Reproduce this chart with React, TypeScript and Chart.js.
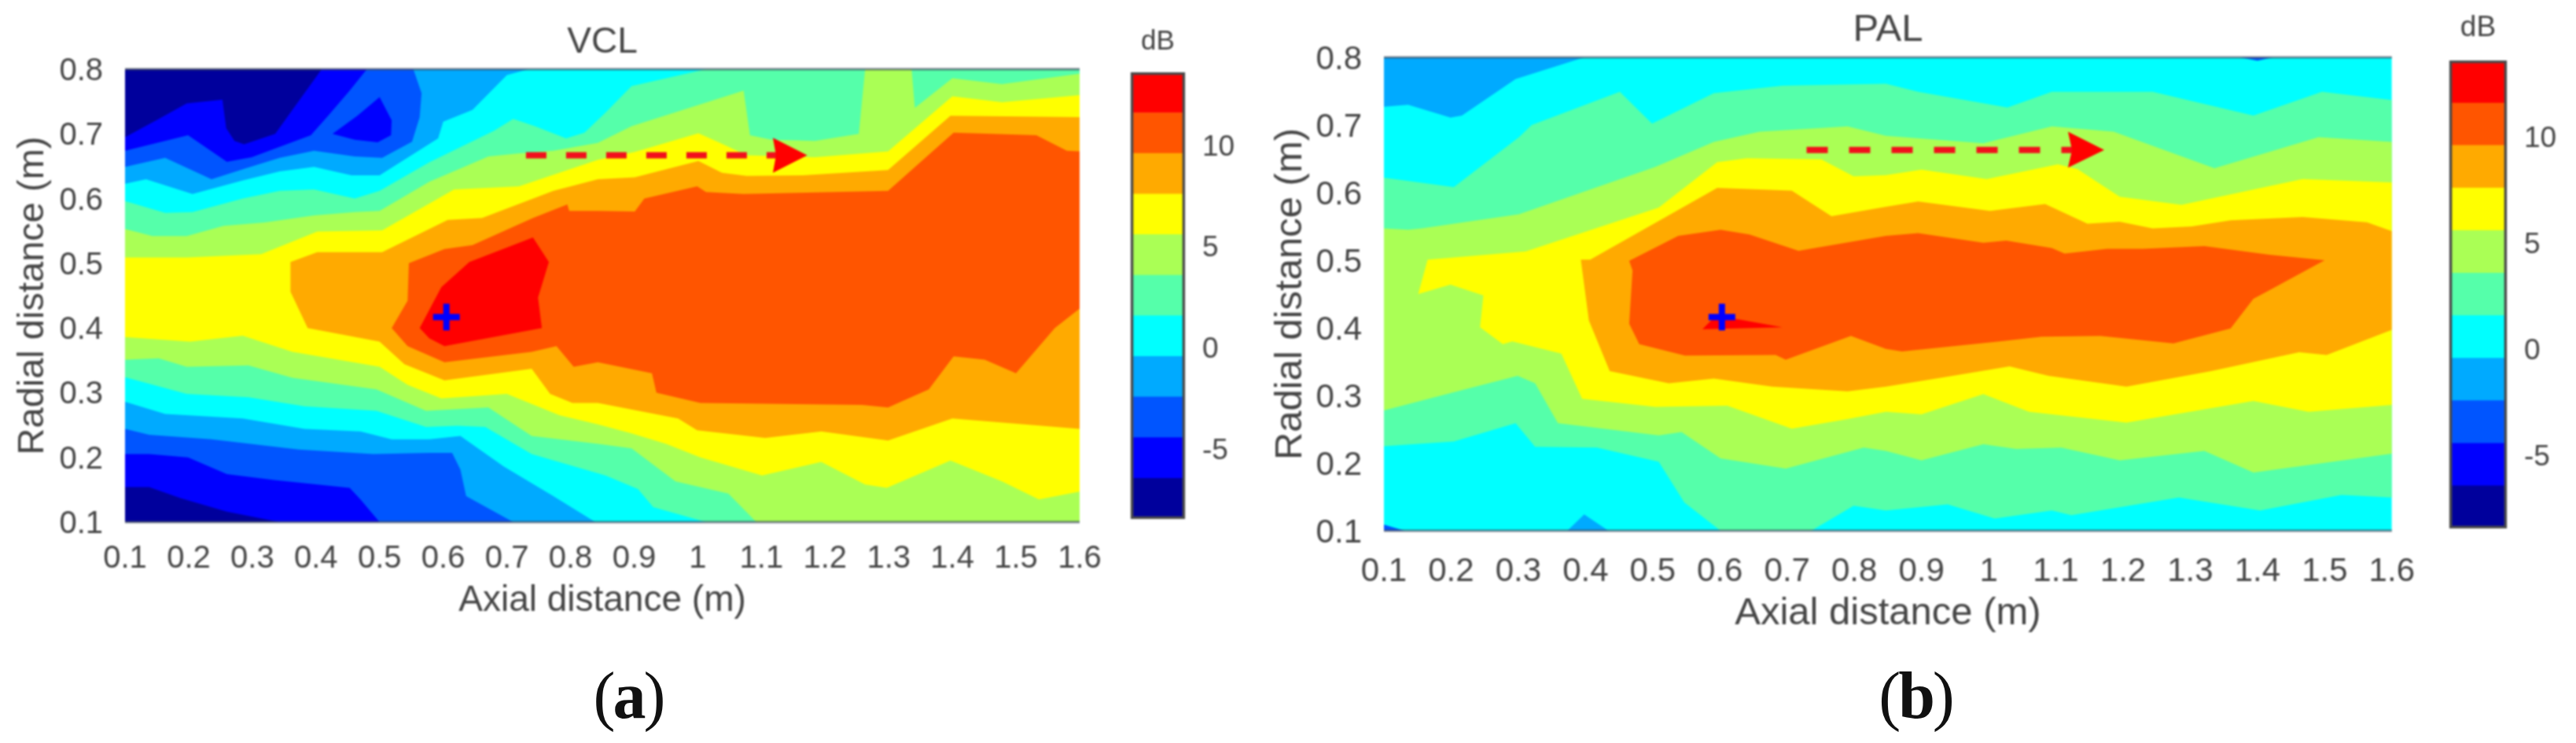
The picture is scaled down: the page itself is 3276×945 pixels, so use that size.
import React, { useEffect, useRef } from "react";
import { Chart, registerables } from "chart.js";

Chart.register(...registerables);

type P = [number, number];

const axialTicks = [0.1, 0.2, 0.3, 0.4, 0.5, 0.6, 0.7, 0.8, 0.9, 1, 1.1, 1.2, 1.3, 1.4, 1.5, 1.6];
const radialTicks = [0.1, 0.2, 0.3, 0.4, 0.5, 0.6, 0.7, 0.8];
const dbTicks = [-5, 0, 5, 10];
const dbEdges = [-8.35, -6.34, -4.34, -2.33, -0.33, 1.68, 3.68, 5.69, 7.69, 9.7, 11.7, 13.7];
const bandColors = ["#00009c", "#0000ff", "#0055ff", "#00aaff", "#00ffff", "#55ffaa", "#aaff55", "#ffff00", "#ffaa00", "#ff5500", "#ff0000"];
const NAVY = 0, BLUE = 1, AZURE = 2, SKY = 3, CYAN = 4, MINT = 5, LIME = 6, YELLOW = 7, ORANGE = 8, VERMILION = 9, RED = 10;

const fullField: P[] = [[0.1, 0.8], [1.6, 0.8], [1.6, 0.1], [0.1, 0.1]];

// ---- VCL contour regions (axial m, radial m) ----
const vclNavyTop: P[] = [[0.1, 0.695], [0.153, 0.723], [0.197, 0.747], [0.253, 0.753], [0.259, 0.709], [0.272, 0.689], [0.287, 0.684], [0.336, 0.7], [0.363, 0.737], [0.409, 0.8], [0.1, 0.8]];
const vclNavyBottom: P[] = [[0.1, 0.154], [0.138, 0.154], [0.187, 0.137], [0.26, 0.116], [0.343, 0.1], [0.1, 0.1]];
const vclAzure: P[] = [[0.1, 0.674], [0.199, 0.698], [0.26, 0.657], [0.299, 0.664], [0.392, 0.698], [0.421, 0.73], [0.453, 0.767], [0.48, 0.8], [1.6, 0.8], [1.6, 0.1], [0.5, 0.1], [0.47, 0.135], [0.453, 0.153], [0.334, 0.165], [0.26, 0.174], [0.199, 0.2], [0.138, 0.205], [0.1, 0.205]];
const vclBlueIsland: P[] = [[0.5, 0.757], [0.519, 0.721], [0.518, 0.698], [0.497, 0.687], [0.461, 0.691], [0.426, 0.7], [0.465, 0.728]];
const vclSky: P[] = [[0.1, 0.649], [0.163, 0.663], [0.236, 0.63], [0.29, 0.647], [0.343, 0.663], [0.397, 0.674], [0.461, 0.665], [0.504, 0.663], [0.551, 0.688], [0.563, 0.726], [0.566, 0.763], [0.553, 0.8], [1.6, 0.8], [1.6, 0.1], [0.71, 0.1], [0.636, 0.14], [0.627, 0.181], [0.614, 0.207], [0.578, 0.207], [0.49, 0.205], [0.373, 0.212], [0.236, 0.228], [0.138, 0.235], [0.1, 0.244]];
const vclCyan: P[] = [[0.1, 0.623], [0.133, 0.63], [0.206, 0.607], [0.285, 0.628], [0.343, 0.642], [0.397, 0.649], [0.456, 0.636], [0.5, 0.636], [0.592, 0.693], [0.6, 0.719], [0.646, 0.737], [0.7, 0.791], [0.734, 0.8], [1.6, 0.8], [1.6, 0.1], [0.839, 0.1], [0.773, 0.14], [0.695, 0.186], [0.627, 0.233], [0.578, 0.228], [0.519, 0.228], [0.47, 0.24], [0.382, 0.244], [0.285, 0.26], [0.163, 0.267], [0.1, 0.286]];
const vclMint: P[] = [[0.1, 0.596], [0.163, 0.578], [0.206, 0.579], [0.285, 0.6], [0.343, 0.612], [0.397, 0.614], [0.461, 0.6], [0.5, 0.612], [0.578, 0.656], [0.68, 0.705], [0.71, 0.723], [0.744, 0.712], [0.793, 0.693], [0.822, 0.702], [0.855, 0.733], [0.896, 0.774], [1.013, 0.8], [1.6, 0.8], [1.6, 0.1], [1.013, 0.1], [0.93, 0.123], [0.906, 0.151], [0.855, 0.172], [0.739, 0.205], [0.666, 0.247], [0.622, 0.249], [0.573, 0.247], [0.495, 0.272], [0.382, 0.279], [0.294, 0.293], [0.197, 0.298], [0.1, 0.324]];
const vclLime: P[] = [[0.1, 0.553], [0.143, 0.542], [0.197, 0.542], [0.255, 0.558], [0.319, 0.563], [0.397, 0.574], [0.461, 0.579], [0.5, 0.581], [0.578, 0.626], [0.671, 0.665], [0.72, 0.67], [0.773, 0.674], [0.843, 0.686], [0.896, 0.712], [1.072, 0.767], [1.082, 0.698], [1.116, 0.691], [1.184, 0.689], [1.253, 0.7], [1.263, 0.8], [1.336, 0.8], [1.341, 0.74], [1.4, 0.786], [1.478, 0.777], [1.6, 0.793], [1.6, 0.1], [1.092, 0.1], [1.048, 0.144], [0.965, 0.163], [0.896, 0.214], [0.843, 0.221], [0.739, 0.233], [0.671, 0.277], [0.573, 0.272], [0.495, 0.305], [0.363, 0.323], [0.294, 0.342], [0.197, 0.34], [0.153, 0.353], [0.1, 0.351]];
const vclYellow: P[] = [[0.1, 0.509], [0.197, 0.509], [0.314, 0.514], [0.402, 0.549], [0.504, 0.551], [0.617, 0.614], [0.719, 0.619], [0.843, 0.66], [0.901, 0.672], [1.001, 0.701], [1.033, 0.687], [1.077, 0.667], [1.184, 0.664], [1.299, 0.673], [1.4, 0.758], [1.478, 0.749], [1.6, 0.76], [1.6, 0.147], [1.536, 0.135], [1.478, 0.163], [1.397, 0.195], [1.297, 0.153], [1.263, 0.158], [1.194, 0.193], [1.101, 0.172], [1.004, 0.2], [0.95, 0.221], [0.896, 0.237], [0.843, 0.251], [0.783, 0.265], [0.7, 0.298], [0.597, 0.291], [0.544, 0.312], [0.5, 0.34], [0.363, 0.363], [0.285, 0.388], [0.202, 0.379], [0.1, 0.386]];
const vclOrange: P[] = [[0.36, 0.502], [0.402, 0.517], [0.504, 0.517], [0.607, 0.567], [0.661, 0.57], [0.773, 0.612], [0.843, 0.63], [0.901, 0.633], [1.001, 0.658], [1.038, 0.64], [1.077, 0.635], [1.165, 0.636], [1.299, 0.644], [1.397, 0.728], [1.6, 0.726], [1.6, 0.244], [1.4, 0.26], [1.299, 0.226], [1.194, 0.24], [1.106, 0.23], [0.999, 0.242], [0.969, 0.26], [0.843, 0.284], [0.803, 0.284], [0.768, 0.298], [0.739, 0.337], [0.602, 0.319], [0.539, 0.344], [0.5, 0.379], [0.387, 0.4], [0.36, 0.456]];
const vclVermilion: P[] = [[0.546, 0.5], [0.602, 0.522], [0.646, 0.528], [0.741, 0.57], [0.795, 0.591], [0.798, 0.581], [0.843, 0.581], [0.901, 0.58], [0.916, 0.6], [0.999, 0.619], [1.013, 0.61], [1.072, 0.607], [1.299, 0.612], [1.402, 0.702], [1.463, 0.7], [1.532, 0.698], [1.58, 0.674], [1.6, 0.673], [1.6, 0.43], [1.561, 0.4], [1.5, 0.33], [1.451, 0.351], [1.402, 0.356], [1.363, 0.305], [1.299, 0.277], [1.258, 0.281], [1.004, 0.284], [0.935, 0.3], [0.928, 0.33], [0.843, 0.347], [0.805, 0.34], [0.778, 0.372], [0.739, 0.363], [0.602, 0.347], [0.544, 0.372], [0.519, 0.4], [0.544, 0.442]];
const vclRed: P[] = [[0.741, 0.54], [0.766, 0.502], [0.749, 0.447], [0.755, 0.4], [0.602, 0.372], [0.578, 0.384], [0.563, 0.4], [0.597, 0.463], [0.641, 0.502]];
const vclPeak: P[] = [[0.605, 0.417]];
const vclArrowShaft: P[] = [[0.73, 0.667], [1.125, 0.667]];
const vclArrowHead: P[] = [[1.118, 0.694], [1.172, 0.667], [1.118, 0.64], [1.123, 0.667]];

// ---- PAL contour regions (axial m, radial m) ----
const palSkyTop: P[] = [[0.1, 0.727], [0.136, 0.73], [0.199, 0.711], [0.216, 0.714], [0.296, 0.768], [0.398, 0.8], [0.1, 0.8]];
const palSkyBottom: P[] = [[0.373, 0.1], [0.398, 0.124], [0.434, 0.1]];
const palAzureCorner: P[] = [[0.1, 0.109], [0.131, 0.1], [0.1, 0.1]];
const palAzureTop: P[] = [[1.374, 0.8], [1.4, 0.795], [1.423, 0.8]];
const palMint: P[] = [[0.1, 0.622], [0.204, 0.608], [0.301, 0.682], [0.32, 0.7], [0.451, 0.749], [0.499, 0.702], [0.591, 0.747], [0.693, 0.758], [0.847, 0.761], [0.895, 0.749], [1.028, 0.726], [1.094, 0.749], [1.244, 0.749], [1.394, 0.714], [1.496, 0.749], [1.6, 0.737], [1.6, 0.149], [1.525, 0.153], [1.404, 0.13], [1.283, 0.149], [1.123, 0.123], [1.094, 0.13], [1.009, 0.118], [0.939, 0.139], [0.847, 0.13], [0.799, 0.137], [0.736, 0.1], [0.601, 0.1], [0.547, 0.142], [0.509, 0.202], [0.417, 0.223], [0.325, 0.224], [0.296, 0.259], [0.204, 0.232], [0.1, 0.225]];
const palLime: P[] = [[0.1, 0.547], [0.136, 0.545], [0.156, 0.547], [0.301, 0.568], [0.504, 0.638], [0.591, 0.675], [0.659, 0.69], [0.79, 0.698], [0.847, 0.684], [0.992, 0.673], [1.094, 0.698], [1.186, 0.69], [1.336, 0.636], [1.491, 0.682], [1.6, 0.675], [1.6, 0.214], [1.394, 0.186], [1.321, 0.218], [1.195, 0.204], [1.108, 0.223], [1.041, 0.221], [0.992, 0.228], [0.9, 0.204], [0.847, 0.218], [0.814, 0.223], [0.698, 0.192], [0.601, 0.207], [0.543, 0.246], [0.509, 0.241], [0.359, 0.259], [0.325, 0.318], [0.299, 0.329], [0.209, 0.306], [0.1, 0.278]];
const palYellow: P[] = [[0.151, 0.45], [0.165, 0.501], [0.311, 0.513], [0.509, 0.578], [0.596, 0.645], [0.64, 0.651], [0.751, 0.649], [0.799, 0.624], [0.847, 0.626], [0.9, 0.634], [0.997, 0.62], [1.103, 0.642], [1.132, 0.635], [1.195, 0.594], [1.287, 0.582], [1.467, 0.62], [1.6, 0.615], [1.6, 0.286], [1.476, 0.276], [1.394, 0.292], [1.205, 0.26], [1.06, 0.276], [0.992, 0.302], [0.9, 0.272], [0.847, 0.276], [0.79, 0.265], [0.707, 0.251], [0.611, 0.285], [0.504, 0.283], [0.395, 0.295], [0.364, 0.362], [0.291, 0.38], [0.277, 0.376], [0.243, 0.401], [0.248, 0.448], [0.199, 0.464]];
const palOrange: P[] = [[0.393, 0.501], [0.407, 0.501], [0.596, 0.607], [0.707, 0.603], [0.766, 0.565], [0.847, 0.579], [0.895, 0.587], [1.002, 0.573], [1.084, 0.583], [1.147, 0.554], [1.195, 0.557], [1.244, 0.547], [1.302, 0.55], [1.36, 0.559], [1.467, 0.564], [1.563, 0.556], [1.6, 0.543], [1.6, 0.397], [1.503, 0.36], [1.462, 0.364], [1.331, 0.336], [1.205, 0.313], [1.089, 0.329], [1.031, 0.343], [0.934, 0.327], [0.847, 0.313], [0.79, 0.306], [0.678, 0.313], [0.591, 0.325], [0.524, 0.318], [0.436, 0.336], [0.405, 0.411]];
const palVermilion: P[] = [[0.465, 0.499], [0.538, 0.536], [0.601, 0.545], [0.644, 0.538], [0.717, 0.514], [0.847, 0.536], [0.895, 0.54], [0.992, 0.526], [1.026, 0.529], [1.094, 0.518], [1.113, 0.51], [1.176, 0.517], [1.229, 0.517], [1.321, 0.521], [1.418, 0.508], [1.5, 0.5], [1.411, 0.452], [1.394, 0.443], [1.36, 0.399], [1.275, 0.377], [1.166, 0.388], [1.079, 0.387], [1.016, 0.38], [0.871, 0.365], [0.847, 0.369], [0.795, 0.388], [0.698, 0.353], [0.683, 0.36], [0.548, 0.359], [0.48, 0.376], [0.465, 0.406], [0.47, 0.485]];
const palRed: P[] = [[0.574, 0.398], [0.591, 0.415], [0.625, 0.413], [0.693, 0.401]];
const palPeak: P[] = [[0.603, 0.416]];
const palArrowShaft: P[] = [[0.729, 0.663], [1.125, 0.663]];
const palArrowHead: P[] = [[1.118, 0.69], [1.172, 0.663], [1.118, 0.637], [1.124, 0.663]];

const vclLayers: [number, P[]][] = [
  [BLUE, fullField], [NAVY, vclNavyTop], [NAVY, vclNavyBottom], [AZURE, vclAzure], [BLUE, vclBlueIsland],
  [SKY, vclSky], [CYAN, vclCyan], [MINT, vclMint], [LIME, vclLime], [YELLOW, vclYellow],
  [ORANGE, vclOrange], [VERMILION, vclVermilion], [RED, vclRed],
];
const palLayers: [number, P[]][] = [
  [CYAN, fullField], [SKY, palSkyTop], [SKY, palSkyBottom], [AZURE, palAzureCorner], [AZURE, palAzureTop],
  [MINT, palMint], [LIME, palLime], [YELLOW, palYellow], [ORANGE, palOrange], [VERMILION, palVermilion], [RED, palRed],
];

const SANS = "'Liberation Sans', Arial, sans-serif";
const INK = "#454545";
const xy = (pts: P[]) => pts.map(([x, y]) => ({ x, y }));

type PanelCfg = {
  title: string; layers: [number, P[]][]; peak: P[]; shaft: P[]; head: P[];
  width: number; height: number; plotLeft: number; plotRight: number; plotTop: number; plotBottom: number;
  titleSize: number; titleY: number; tickSize: number; tickPadX: number; tickPadY: number;
  xTitleSize: number; xTitleY: number; yTitleSize: number; yTitleX: number; dash: number[];
};

function makePanel(canvas: HTMLCanvasElement, c: PanelCfg) {
  const polys = c.layers.map(([idx, pts]) => ({
    data: xy(pts), showLine: true, fill: "shape", backgroundColor: bandColors[idx], borderWidth: 0, pointRadius: 0,
  }));
  const frame = [[[0.1, 0.8], [1.6, 0.8]], [[0.1, 0.1], [1.6, 0.1]]].map((pts) => ({
    data: xy(pts as P[]), showLine: true, borderColor: "rgba(60,70,90,0.65)", borderWidth: 3, pointRadius: 0, clip: 4, fill: false,
  }));
  const shaft = { data: xy(c.shaft), showLine: true, borderColor: "#f2101c", borderWidth: 8, borderDash: c.dash, pointRadius: 0, fill: false };
  const head = { data: xy(c.head), showLine: true, fill: "shape", backgroundColor: "#ff0000", borderWidth: 0, pointRadius: 0 };
  const peak = { data: xy(c.peak), showLine: false, pointStyle: "cross", pointRadius: 17, pointBorderWidth: 8, pointBorderColor: "#0000ff", fill: false };
  // Chart.js paints the first dataset last, so the list is reversed.
  const datasets = [...polys, ...frame, shaft, head, peak].reverse();
  const titleLh = c.titleSize * 1.2;
  return new Chart(canvas, {
    type: "scatter",
    data: { datasets: datasets as any },
    options: {
      animation: false, responsive: false, devicePixelRatio: 1, events: [],
      layout: { padding: { left: 0, top: 0, right: c.width - c.plotRight, bottom: 0 } },
      plugins: {
        legend: { display: false }, tooltip: { enabled: false },
        title: {
          display: true, text: c.title, color: INK, fullSize: false,
          font: { family: SANS, size: c.titleSize, weight: "normal", lineHeight: 1.2 },
          padding: { top: c.titleY - titleLh / 2, bottom: c.plotTop - c.titleY - titleLh / 2 },
        },
      },
      scales: {
        x: {
          type: "linear", min: 0.1, max: 1.6,
          afterBuildTicks: (s: any) => { s.ticks = axialTicks.map((value) => ({ value })); },
          afterFit: (s: any) => { s.height = c.height - c.plotBottom; },
          grid: { display: false }, border: { display: false },
          ticks: { autoSkip: false, maxRotation: 0, padding: c.tickPadX, color: INK, font: { family: SANS, size: c.tickSize }, callback: (v: any) => String(v) },
          title: {
            display: true, text: "Axial distance (m)", color: INK,
            font: { family: SANS, size: c.xTitleSize, lineHeight: 1.2 },
            padding: { top: 0, bottom: c.height - c.xTitleY - c.xTitleSize * 0.6 },
          },
        },
        y: {
          type: "linear", min: 0.1, max: 0.8,
          afterBuildTicks: (s: any) => { s.ticks = radialTicks.map((value) => ({ value })); },
          afterFit: (s: any) => { s.width = c.plotLeft; },
          grid: { display: false }, border: { display: false },
          ticks: { autoSkip: false, padding: c.tickPadY, labelOffset: 3, color: INK, font: { family: SANS, size: c.tickSize }, callback: (v: any) => String(v) },
          title: {
            display: true, text: "Radial distance (m)", color: INK,
            font: { family: SANS, size: c.yTitleSize, lineHeight: 1.2 },
            padding: { top: c.yTitleX - c.yTitleSize * 0.6, bottom: 0 },
          },
        },
      },
    } as any,
  });
}

type BarCfg = {
  width: number; height: number; left: number; right: number; top: number; bottom: number;
  size: number; titleSize: number; titleY: number; pad: number;
};

function makeColorbar(canvas: HTMLCanvasElement, c: BarCfg) {
  const bands = bandColors.map((color, i) => ({
    data: [[dbEdges[i], dbEdges[i + 1]]], backgroundColor: color, borderWidth: 0, barPercentage: 1, categoryPercentage: 1,
  }));
  const outline = {
    data: [[dbEdges[0], dbEdges[dbEdges.length - 1]]], backgroundColor: "rgba(0,0,0,0)", borderColor: "#4a4a4a",
    borderWidth: 3, borderSkipped: false, barPercentage: 1, categoryPercentage: 1, clip: 4,
  };
  const titleLh = c.titleSize * 1.2;
  return new Chart(canvas, {
    type: "bar",
    data: { labels: ["dB"], datasets: [outline, ...bands] as any },
    options: {
      animation: false, responsive: false, devicePixelRatio: 1, events: [],
      layout: { padding: { left: c.left, top: 0, right: 0, bottom: c.height - c.bottom } },
      plugins: {
        legend: { display: false }, tooltip: { enabled: false },
        title: {
          display: true, text: "dB", color: INK, fullSize: false,
          font: { family: SANS, size: c.titleSize, weight: "normal", lineHeight: 1.2 },
          padding: { top: c.titleY - titleLh / 2, bottom: c.top - c.titleY - titleLh / 2 },
        },
      },
      scales: {
        x: { display: false, stacked: true },
        y: {
          type: "linear", position: "right", stacked: false, min: dbEdges[0], max: dbEdges[dbEdges.length - 1],
          afterBuildTicks: (s: any) => { s.ticks = dbTicks.map((value) => ({ value })); },
          afterFit: (s: any) => { s.width = c.width - c.right; },
          grid: { display: false }, border: { display: false },
          ticks: { padding: c.pad, color: INK, font: { family: SANS, size: c.size }, callback: (v: any) => String(v) },
        },
      },
    } as any,
  });
}

const vclCfg: PanelCfg = {
  title: "VCL", layers: vclLayers, peak: vclPeak, shaft: vclArrowShaft, head: vclArrowHead,
  width: 1420, height: 800, plotLeft: 159, plotRight: 1373, plotTop: 88, plotBottom: 664,
  titleSize: 46, titleY: 54, tickSize: 40, tickPadX: 15, tickPadY: 20,
  xTitleSize: 46, xTitleY: 764, yTitleSize: 47, yTitleX: 42, dash: [26, 25],
};
const palCfg: PanelCfg = {
  title: "PAL", layers: palLayers, peak: palPeak, shaft: palArrowShaft, head: palArrowHead,
  width: 1490, height: 830, plotLeft: 160, plotRight: 1445, plotTop: 73, plotBottom: 675,
  titleSize: 49, titleY: 38, tickSize: 42, tickPadX: 19, tickPadY: 20,
  xTitleSize: 49, xTitleY: 780, yTitleSize: 49, yTitleX: 41, dash: [27, 27],
};
const vclBar: BarCfg = { width: 240, height: 720, left: 38, right: 107, top: 92, bottom: 660, size: 37, titleSize: 35, titleY: 53, pad: 14 };
const palBar: BarCfg = { width: 196, height: 720, left: 35, right: 108, top: 77, bottom: 672, size: 37, titleSize: 37, titleY: 36, pad: 14 };

const soft = (left: number, top: number): React.CSSProperties => ({ position: "absolute", left, top, filter: "blur(1.1px)" });
const caption = (left: number): React.CSSProperties => ({
  position: "absolute", left, top: 839, width: 120, textAlign: "center", fontFamily: "'Liberation Serif', serif",
  fontSize: 84, lineHeight: "92px", letterSpacing: -3, color: "#111",
});

export default function App() {
  const a = useRef<HTMLCanvasElement>(null);
  const ab = useRef<HTMLCanvasElement>(null);
  const b = useRef<HTMLCanvasElement>(null);
  const bb = useRef<HTMLCanvasElement>(null);
  useEffect(() => {
    const charts = [
      makePanel(a.current!, vclCfg), makeColorbar(ab.current!, vclBar),
      makePanel(b.current!, palCfg), makeColorbar(bb.current!, palBar),
    ];
    return () => charts.forEach((c) => c.destroy());
  }, []);
  return (
    <div>
      <canvas ref={a} width={vclCfg.width} height={vclCfg.height} style={soft(0, 0)} />
      <canvas ref={ab} width={vclBar.width} height={vclBar.height} style={soft(1400, 0)} />
      <canvas ref={b} width={palCfg.width} height={palCfg.height} style={soft(1600, 0)} />
      <canvas ref={bb} width={palBar.width} height={palBar.height} style={soft(3080, 0)} />
      <div style={caption(739)}>(<b>a</b>)</div>
      <div style={caption(2376)}>(<b>b</b>)</div>
    </div>
  );
}
